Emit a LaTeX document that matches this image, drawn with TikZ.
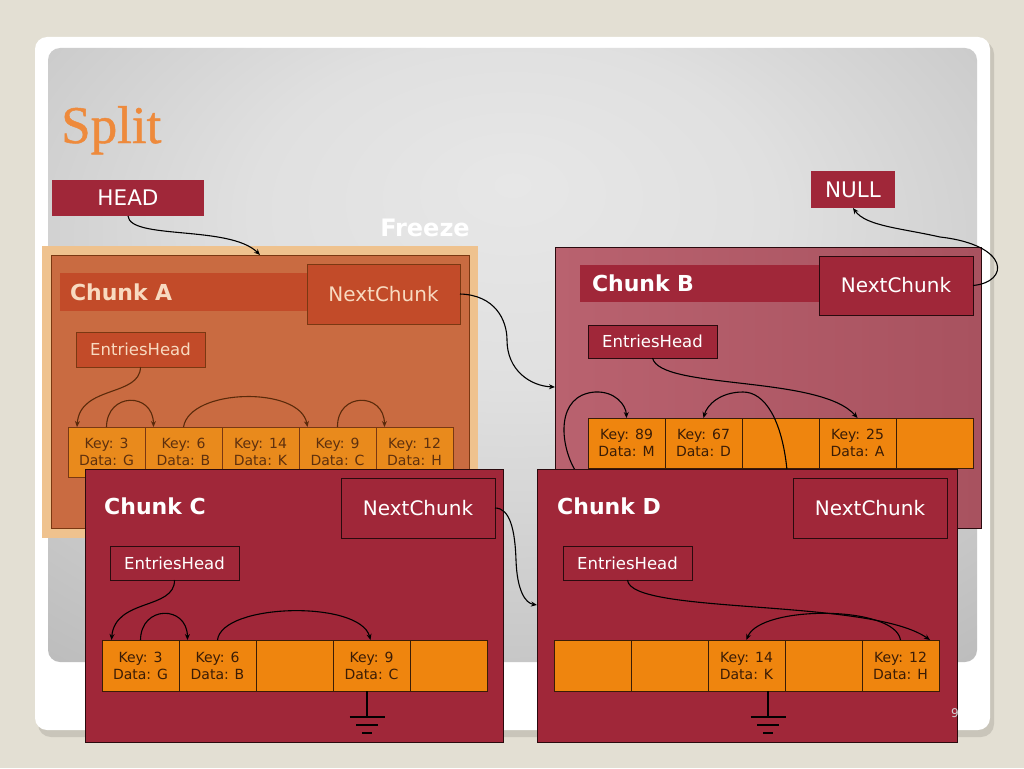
\documentclass[tikz,border=0pt]{standalone}
\usepackage{fontspec}
\setmainfont{DejaVu Sans}
\newfontfamily\titlefont[FakeBold=0.9]{Liberation Serif}
\usetikzlibrary{arrows.meta}
\definecolor{bgc}{HTML}{E3DFD3}
\definecolor{shadowc}{HTML}{C9C5BA}
\definecolor{crim}{HTML}{A02739}
\definecolor{crdark}{HTML}{2A0A0E}
\definecolor{chBl}{HTML}{B9626F}
\definecolor{chBr}{HTML}{A8525F}
\definecolor{chA}{HTML}{C96B41}
\definecolor{chAbar}{HTML}{C24B29}
\definecolor{abord}{HTML}{7A3812}
\definecolor{apeach}{HTML}{F8DAC0}
\definecolor{glow}{HTML}{EFC28E}
\definecolor{cellc}{HTML}{EF850E}
\definecolor{cellA}{HTML}{E98A1C}
\definecolor{celltx}{HTML}{3A1C06}
\definecolor{celltxA}{HTML}{5E300E}
\definecolor{titlec}{HTML}{EE8A3C}
\definecolor{arrA}{HTML}{5A2A0A}
\definecolor{pc1}{HTML}{E7E7E7}
\definecolor{pc2}{HTML}{E0E0E0}
\definecolor{pc3}{HTML}{C6C6C6}
\definecolor{pc4}{HTML}{A6A6A6}
\pgfdeclareradialshading{panelshade}{\pgfpoint{0bp}{14bp}}{color(0bp)=(pc1); color(14bp)=(pc2); color(34bp)=(pc3); color(56bp)=(pc4); color(80bp)=(pc4)}
\begin{document}
\begin{tikzpicture}[x=1pt,y=-1pt,
  bx/.style={inner sep=0pt, outer sep=0pt, anchor=north west},
  crbox/.style={bx, fill=crim, draw=crdark, line width=0.9pt, text=white},
  abox/.style={bx, fill=chAbar, draw=abord, line width=0.9pt, text=apeach},
  nextf/.style={font=\fontsize{20}{24}\selectfont},
  entf/.style={font=\fontsize{16.5}{20}\selectfont},
  titf/.style={font=\bfseries\fontsize{22}{26}\selectfont},
  cell/.style={bx, draw=celltx, fill=cellc, line width=0.9pt, minimum width=77pt, minimum height=51pt, align=center, text=celltx, font=\fontsize{14}{17}\selectfont},
  cellAst/.style={cell, fill=cellA, draw=abord, text=celltxA, minimum height=50pt},
  ptr/.style={line width=1.1pt, draw=black, -{Stealth[length=6pt,width=5pt]}},
  ptrA/.style={ptr, draw=arrA},
  gnd/.style={line width=1.6pt, draw=black}
]
\useasboundingbox (0,0) rectangle (1024,768);
% background and slide
\fill[bgc] (0,0) rectangle (1024,768);
\fill[shadowc, rounded corners=13pt] (38,41) rectangle (994,737);
\fill[white, rounded corners=12pt] (35,37) rectangle (990,730);
\shade[shading=panelshade, rounded corners=12pt] (48,48) rectangle (977,662);

% title
\node[anchor=base west, inner sep=0pt, text=titlec, font=\titlefont\fontsize{53}{60}\selectfont] (title) at (61,143) {Split};

% Chunk A (frozen)
\node[bx, fill=glow, minimum width=436pt, minimum height=292pt] (glowA) at (42,246) {};
\node[bx, fill=chA, draw=abord, line width=0.9pt, minimum width=418pt, minimum height=273pt] (chA) at (51,255) {};
\node[bx, fill=chAbar, minimum width=247pt, minimum height=38pt, text width=227pt, inner xsep=10pt, align=left, text=apeach, titf] (tA) at (60,273) {Chunk A};
\node[abox, nextf, minimum width=153pt, minimum height=60pt] (nextA) at (307,264) {NextChunk};
\node[abox, entf, minimum width=129pt, minimum height=35pt] (entA) at (76,332) {EntriesHead};
\node[cellAst] (a1) at (68,427) {Key: 3\\Data: G};
\node[cellAst] (a2) at (a1.north east) {Key: 6\\Data: B};
\node[cellAst] (a3) at (a2.north east) {Key: 14\\Data: K};
\node[cellAst] (a4) at (a3.north east) {Key: 9\\Data: C};
\node[cellAst] (a5) at (a4.north east) {Key: 12\\Data: H};
\draw[ptrA] (entA.south) .. controls (140,397) and (80,385) .. ([xshift=-29.5pt]a1.north);
\draw[ptrA] (a1.north) .. controls (107,392) and (153,392) .. ([xshift=-30pt]a2.north);
\draw[ptrA] (a2.north) .. controls (190,388) and (300,386) .. ([xshift=-30pt]a4.north);
\draw[ptrA] (a4.north) .. controls (337,392) and (384,392) .. ([xshift=-30pt]a5.north);
\coordinate (aIn) at (260,255);

% Chunk B
\node[bx, left color=chBl, right color=chBr, draw=crdark, line width=0.9pt, minimum width=426pt, minimum height=281pt] (chB) at (555,247) {};
\node[bx, fill=crim, minimum width=240pt, minimum height=37pt, text width=228pt, inner xsep=12pt, align=left, text=white, titf] (tB) at (580,265) {Chunk B};
\node[crbox, nextf, minimum width=154pt, minimum height=59pt] (nextB) at (819,256) {NextChunk};
\node[crbox, entf, minimum width=129pt, minimum height=33pt] (entB) at (588,325) {EntriesHead};
\node[cell, minimum height=50pt] (b1) at (588,418) {Key: 89\\Data: M};
\node[cell, minimum height=50pt] (b2) at (b1.north east) {Key: 67\\Data: D};
\node[cell, minimum height=50pt] (b3) at (b2.north east) {};
\node[cell, minimum height=50pt] (b4) at (b3.north east) {Key: 25\\Data: A};
\node[cell, minimum height=50pt] (b5) at (b4.north east) {};
\coordinate (bIn) at (555,387);
\coordinate (bl1) at (575,470);
\coordinate (bl2) at (787,470);
\draw[ptr] (entB.south) .. controls (660,390) and (820,375) .. (b4.north);
\draw[ptr] (bl1) .. controls (560,445) and (555,395) .. (595,392) .. controls (615,391) and (626,405) .. (b1.north);
\draw[ptr] (bl2) .. controls (782,420) and (765,392) .. (743,392) .. controls (720,392) and (707,405) .. (b2.north);

% HEAD, NULL, Freeze
\node[bx, fill=crim, text=white, minimum width=152pt, minimum height=36pt, font=\fontsize{21.5}{25}\selectfont] (head) at (52,180) {HEAD};
\node[bx, fill=crim, text=white, minimum width=84pt, minimum height=37pt, font=\fontsize{21.5}{25}\selectfont] (null) at (811,171) {NULL};
\node[inner sep=0pt, text=white, font=\bfseries\fontsize{24}{28}\selectfont] (freeze) at (425,228) {Freeze};

\draw[ptr] (head.south) .. controls (130,240) and (230,225) .. (aIn);
\draw[ptr] (nextA.east) .. controls (495,295) and (507,320) .. (507,340) .. controls (507,370) and (530,386) .. (bIn);
\draw[ptr] (nextB.east) .. controls (1010,282) and (1010,245) .. (940,237) .. controls (900,228) and (866,226) .. (null.south);

% Chunk C
\node[bx, fill=crim, draw=crdark, line width=0.9pt, minimum width=418pt, minimum height=273pt] (chC) at (85,469) {};
\node[anchor=west, inner sep=0pt, text=white, titf] (tC) at (104,506) {Chunk C};
\node[crbox, nextf, minimum width=154pt, minimum height=60pt] (nextC) at (341,478) {NextChunk};
\node[crbox, entf, minimum width=129pt, minimum height=34pt] (entC) at (110,546) {EntriesHead};
\node[cell] (c1) at (102,640) {Key: 3\\Data: G};
\node[cell] (c2) at (c1.north east) {Key: 6\\Data: B};
\node[cell] (c3) at (c2.north east) {};
\node[cell] (c4) at (c3.north east) {Key: 9\\Data: C};
\node[cell] (c5) at (c4.north east) {};
\draw[ptr] (entC.south) .. controls (175,610) and (115,598) .. ([xshift=-29pt]c1.north);
\draw[ptr] (c1.north) .. controls (141,605) and (187,605) .. ([xshift=-30pt]c2.north);
\draw[ptr] (c2.north) .. controls (222,603) and (360,600) .. ([xshift=-1pt]c4.north);
\draw[gnd] ([xshift=-4.5pt]c4.south) -- ++(0,26) coordinate (gC);
\draw[gnd] ([xshift=-17.5pt]gC) -- ++(35,0);
\draw[gnd] ([xshift=-11pt,yshift=-8pt]gC) -- ++(22,0);
\draw[gnd] ([xshift=-5pt,yshift=-16pt]gC) -- ++(10,0);

\coordinate (dIn) at (537,605);
\draw[ptr] (nextC.east) .. controls (510,508) and (515,530) .. (516,560) .. controls (517,590) and (525,603) .. (dIn);

% Chunk D
\node[bx, fill=crim, draw=crdark, line width=0.9pt, minimum width=420pt, minimum height=273pt] (chD) at (537,469) {};
\node[anchor=west, inner sep=0pt, text=white, titf] (tD) at (557,506) {Chunk D};
\node[crbox, nextf, minimum width=154pt, minimum height=60pt] (nextD) at (793,478) {NextChunk};
\node[crbox, entf, minimum width=129pt, minimum height=34pt] (entD) at (563,546) {EntriesHead};
\node[cell] (d1) at (554,640) {};
\node[cell] (d2) at (d1.north east) {};
\node[cell] (d3) at (d2.north east) {Key: 14\\Data: K};
\node[cell] (d4) at (d3.north east) {};
\node[cell] (d5) at (d4.north east) {Key: 12\\Data: H};
\draw[ptr] (entD.south) .. controls (630,615) and (870,598) .. ([xshift=29.5pt]d5.north);
\draw[ptr] (d5.north) .. controls (895,605) and (760,605) .. (d3.north);
\draw[gnd] ([xshift=21.5pt]d3.south) -- ++(0,26) coordinate (gD);
\draw[gnd] ([xshift=-17.5pt]gD) -- ++(35,0);
\draw[gnd] ([xshift=-11pt,yshift=-8pt]gD) -- ++(22,0);
\draw[gnd] ([xshift=-5pt,yshift=-16pt]gD) -- ++(10,0);

% page number
\node[inner sep=0pt, text=black!18, font=\fontsize{12}{14}\selectfont] (pg) at (955,713) {9};
\end{tikzpicture}
\end{document}
